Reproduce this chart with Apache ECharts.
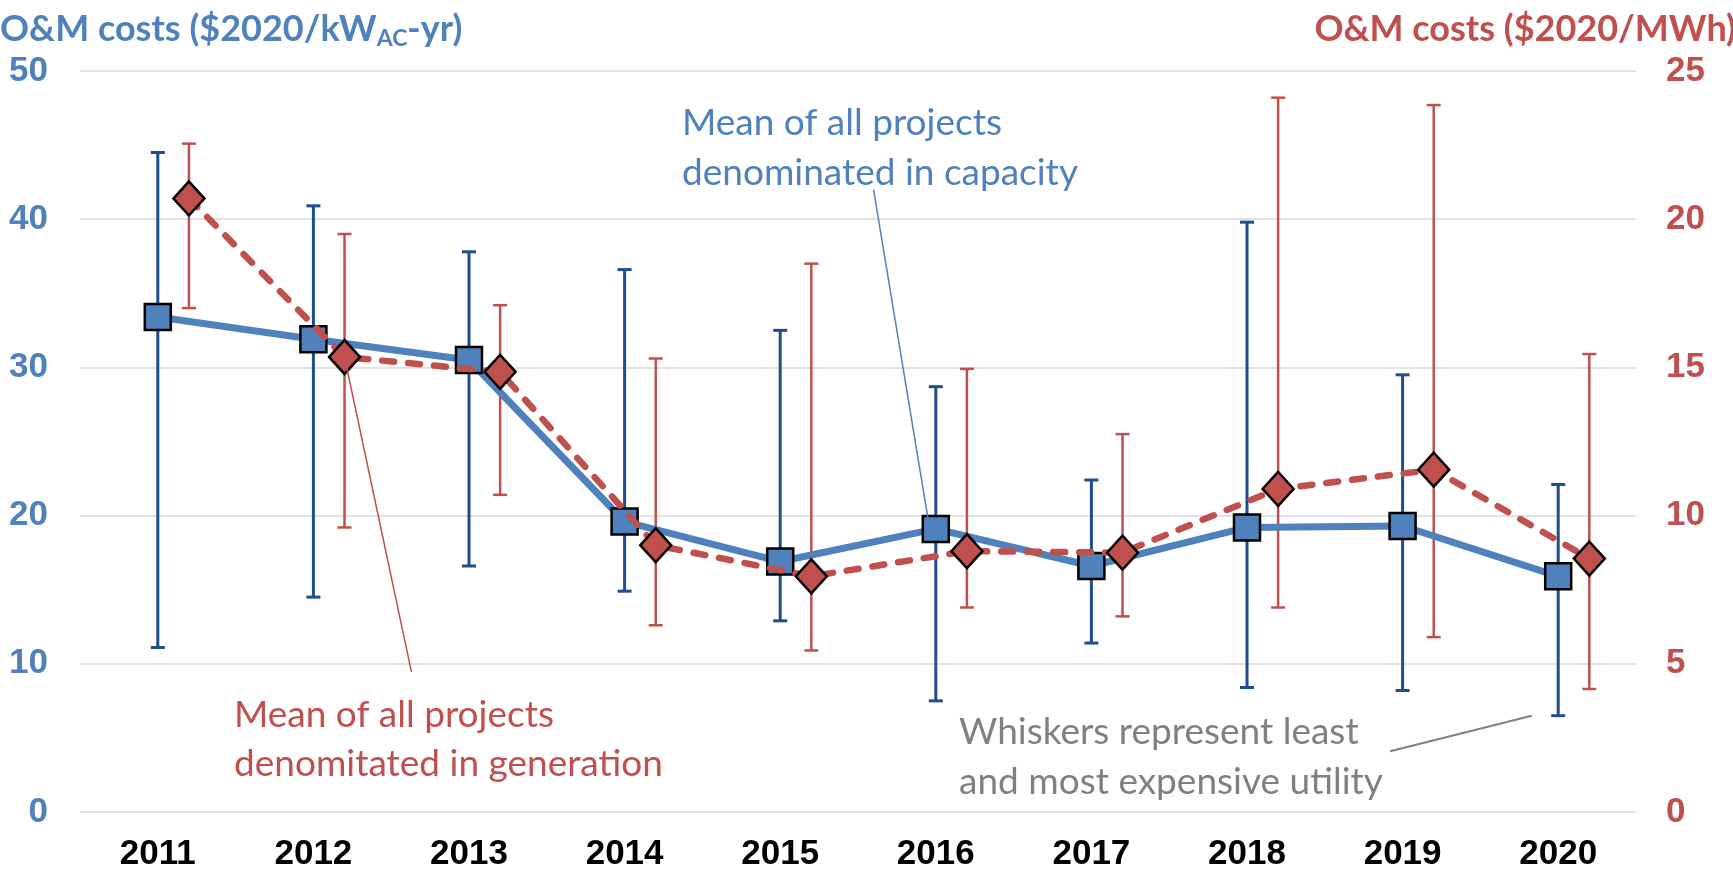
<!DOCTYPE html>
<html>
<head>
<meta charset="utf-8">
<script src="https://cdn.jsdelivr.net/npm/echarts@6/dist/echarts.min.js"></script>
<style>
html, body { margin: 0; padding: 0; background: #fff; }
#chart { width: 1733px; height: 873px; }
</style>
</head>
<body>
<div id="chart"></div>
<script>
// years on the x axis
var years = ['2011', '2012', '2013', '2014', '2015', '2016', '2017', '2018', '2019', '2020'];

// $/kW-yr (left axis): mean and whiskers
var capMean = [33.4, 31.9, 30.5, 19.6, 16.9, 19.1, 16.6, 19.2, 19.3, 15.9];
var capMax  = [44.5, 40.9, 37.8, 36.6, 32.5, 28.7, 22.4, 39.8, 29.5, 22.1];
var capMin  = [11.1, 14.5, 16.6, 14.9, 12.9, 7.5, 11.4, 8.4, 8.2, 6.5];

// $/MWh (right axis): mean and whiskers
var genMean = [20.7, 15.35, 14.85, 9.0, 7.95, 8.8, 8.75, 10.9, 11.55, 8.55];
var genMax  = [22.55, 19.5, 17.1, 15.3, 18.5, 14.95, 12.75, 24.1, 23.85, 15.45];
var genMin  = [17.0, 9.6, 10.7, 6.3, 5.45, 6.9, 6.6, 6.9, 5.9, 4.15];

var leftTicks = [0, 10, 20, 30, 40, 50];
var rightTicks = [0, 5, 10, 15, 20, 25];

var BLUE = '#4F81BD', NAVY = '#1F4E8C', RED = '#C0504D', GRAY = '#808080';
var shift = 0.2; // red series sits a bit right of the year centre

var capPts = capMean.map(function (v, i) { return [i, v]; });
var capBars = capMean.map(function (v, i) { return [i, capMin[i], capMax[i]]; });
var genPts = genMean.map(function (v, i) { return [i + shift, v]; });
var genBars = genMean.map(function (v, i) { return [i + shift, genMin[i], genMax[i]]; });

function whisker(color, width) {
    return function (params, api) {
        var x = api.value(0);
        var lo = api.coord([x, api.value(1)]);
        var hi = api.coord([x, api.value(2)]);
        var c = 7;
        var st = { stroke: color, lineWidth: width };
        return {
            type: 'group',
            children: [
                { type: 'line', shape: { x1: lo[0], y1: lo[1], x2: hi[0], y2: hi[1] }, style: st },
                { type: 'line', shape: { x1: hi[0] - c, y1: hi[1], x2: hi[0] + c, y2: hi[1] }, style: st },
                { type: 'line', shape: { x1: lo[0] - c, y1: lo[1], x2: lo[0] + c, y2: lo[1] }, style: st }
            ]
        };
    };
}

var chart = echarts.init(document.getElementById('chart'));
var option = {
    animation: false,
    backgroundColor: '#fff',
    grid: { left: 80, right: 97, top: 71, bottom: 61, containLabel: false, outerBoundsMode: 'none' },
    xAxis: [
        {
            type: 'category',
            data: years,
            boundaryGap: true,
            axisLine: { show: false },
            axisTick: { show: false },
            axisLabel: { margin: 25, color: '#000', fontFamily: 'Liberation Sans', fontWeight: 'bold', fontSize: 35, interval: 0 },
            splitLine: { show: false }
        },
        { type: 'value', min: -0.5, max: 9.5, show: false }
    ],
    yAxis: [
        {
            type: 'value', min: leftTicks[0], max: leftTicks[leftTicks.length - 1], interval: 10,
            axisLine: { show: false }, axisTick: { show: false },
            axisLabel: { margin: 32, color: BLUE, fontFamily: 'Liberation Sans', fontWeight: 'bold', fontSize: 35 },
            splitLine: { lineStyle: { color: '#D9D9D9', width: 1.5 } }
        },
        {
            type: 'value', min: rightTicks[0], max: rightTicks[rightTicks.length - 1], interval: 5,
            position: 'right',
            axisLine: { show: false }, axisTick: { show: false },
            axisLabel: { margin: 30, color: RED, fontFamily: 'Liberation Sans', fontWeight: 'bold', fontSize: 35, align: 'left' },
            splitLine: { show: false }
        }
    ],
    graphic: [
        {
            type: 'text', left: 0, top: 11,
            style: {
                text: 'O&M costs ($2020/kW{sub|AC}-yr)',
                fill: BLUE, font: 'bold 36px Lato',
                rich: { sub: { fontSize: 23, fontWeight: 'bold', fontFamily: 'Lato', fill: BLUE, padding: [20, 0, 0, 0] } }
            }
        },
        {
            type: 'text', right: -3, top: 11,
            style: { text: 'O&M costs ($2020/MWh)', fill: RED, font: 'bold 36px Lato' }
        },
        {
            type: 'text', left: 682, top: 98,
            style: { text: 'Mean of all projects\ndenominated in capacity', fill: BLUE, font: '37px Lato', lineHeight: 50 }
        },
        {
            type: 'text', left: 234, top: 691,
            style: { text: 'Mean of all projects\ndenomitated in generation', fill: RED, font: '37px Lato', lineHeight: 49 }
        },
        {
            type: 'text', left: 959, top: 707,
            style: { text: 'Whiskers represent least\nand most expensive utility', fill: GRAY, font: '37px Lato', lineHeight: 50 }
        }
    ],
    series: [
        {
            name: 'cap range', type: 'custom', xAxisIndex: 1, yAxisIndex: 0,
            renderItem: whisker(NAVY, 3), data: capBars, encode: { x: 0, y: [1, 2] }, z: 2
        },
        {
            name: 'gen range', type: 'custom', xAxisIndex: 1, yAxisIndex: 1,
            renderItem: whisker(RED, 2.5), data: genBars, encode: { x: 0, y: [1, 2] }, z: 2
        },
        {
            name: 'Mean capacity', type: 'line', xAxisIndex: 1, yAxisIndex: 0, data: capPts,
            symbol: 'rect', symbolSize: 26,
            lineStyle: { color: BLUE, width: 7 },
            itemStyle: { color: BLUE, borderColor: '#000', borderWidth: 2.5 },
            z: 3,
            markLine: {
                silent: true, symbol: ['none', 'none'], label: { show: false },
                lineStyle: { type: 'solid', width: 1.5, color: BLUE },
                data: [[{ coord: [4.6, 42.0] }, { coord: [4.95, 19.8] }]]
            }
        },
        {
            name: 'Whiskers note', type: 'line', xAxisIndex: 1, yAxisIndex: 0, data: [],
            markLine: {
                silent: true, symbol: ['none', 'none'], label: { show: false },
                lineStyle: { type: 'solid', width: 2, color: GRAY },
                data: [[{ coord: [7.92, 4.1] }, { coord: [8.83, 6.5] }]]
            }
        },
        {
            name: 'Mean generation', type: 'line', xAxisIndex: 1, yAxisIndex: 1, data: genPts,
            symbol: 'diamond', symbolSize: [31, 34],
            lineStyle: { color: RED, width: 6.5, type: [12, 14], cap: 'round' },
            itemStyle: { color: RED, borderColor: '#000', borderWidth: 2.5 },
            z: 4,
            markLine: {
                silent: true, symbol: ['none', 'none'], label: { show: false },
                lineStyle: { type: 'solid', width: 1.5, color: RED },
                data: [[{ coord: [1.2, 15.35] }, { coord: [1.63, 4.73] }]]
            }
        }
    ]
};
chart.setOption(option);
</script>
</body>
</html>
